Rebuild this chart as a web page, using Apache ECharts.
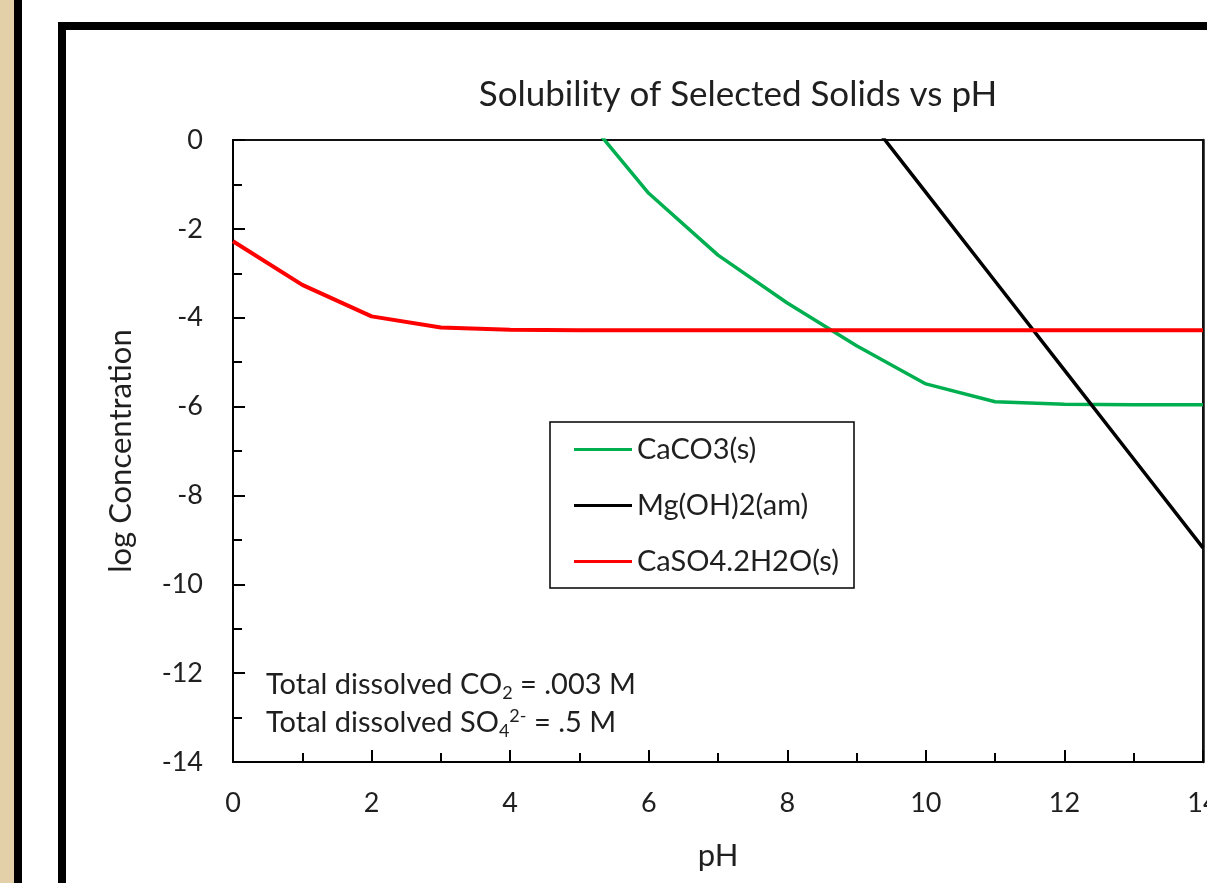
<!DOCTYPE html>
<html>
<head>
<meta charset="utf-8">
<script src="https://cdn.jsdelivr.net/npm/echarts@6/dist/echarts.min.js"></script>
<style>
  html, body { margin: 0; padding: 0; background: #ffffff; overflow: hidden; }
  #chart { width: 1207px; height: 883px; }
</style>
</head>
<body>
<div id="chart"></div>
<script>
// pH values (x) and log concentration of each solid (y)
const phValues = [0, 1, 2, 3, 4, 5, 6, 7, 8, 9, 10, 11, 12, 13, 14];
const caco3 = [null, null, null, null, null, 0.68, -1.2, -2.59, -3.67, -4.63, -5.49, -5.89, -5.95, -5.96, -5.96];
const mgoh2 = [null, null, null, null, null, null, null, null, null, 0.82, -1.18, -3.18, -5.18, -7.18, -9.18];
const caso4 = [-2.28, -3.26, -3.97, -4.22, -4.27, -4.28, -4.28, -4.28, -4.28, -4.28, -4.28, -4.28, -4.28, -4.28, -4.28];
const seriesNames = ["CaCO3(s)", "Mg(OH)2(am)", "CaSO4.2H2O(s)"];
const seriesColors = ["#00B050", "#000000", "#FF0000"];

const FONT = "Lato";
const TEXT = "#1f1f1f";

const toPairs = (vals) => phValues.map((x, i) => [x, vals[i]]);

const chart = echarts.init(document.getElementById("chart"), null, { renderer: "canvas" });

const axisFont = { fontFamily: FONT, fontSize: 27, color: TEXT };

const option = {
  backgroundColor: "#ffffff",
  animation: false,
  title: {
    text: "Solubility of Selected Solids vs pH",
    left: 733,
    top: 72,
    textAlign: "center",
    textStyle: { fontFamily: FONT, fontSize: 35, fontWeight: 400, color: TEXT },
  },
  legend: {
    orient: "vertical",
    left: 550,
    top: 422,
    padding: [13, 15, 12, 24],
    itemGap: 27,
    itemWidth: 58,
    itemHeight: 3,
    icon: "rect",
    borderColor: "#000",
    borderWidth: 1.5,
    textStyle: { fontFamily: FONT, fontSize: 29, color: TEXT },
    data: seriesNames,
  },
  grid: {
    left: 233,
    top: 140,
    width: 970,
    height: 622,
    outerBoundsMode: "none",
    show: true,
    borderColor: "#111",
    borderWidth: 2,
  },
  xAxis: {
    type: "value",
    min: 0,
    max: 14,
    interval: 2,
    name: "pH",
    nameLocation: "middle",
    nameGap: 78,
    nameTextStyle: { fontFamily: FONT, fontSize: 31, color: TEXT },
    axisLine: { onZero: false, lineStyle: { color: "#000", width: 2 } },
    axisTick: { inside: true, length: 12, lineStyle: { color: "#000", width: 2 } },
    minorTick: { show: true, splitNumber: 2, length: 9, lineStyle: { color: "#000", width: 2 } },
    axisLabel: Object.assign({ margin: 28 }, axisFont),
    splitLine: { show: false },
  },
  yAxis: [
    {
      type: "value",
      min: -14,
      max: 0,
      interval: 2,
      name: "log Concentration",
      nameLocation: "middle",
      nameGap: 97,
      nameRotate: 90,
      nameTextStyle: { fontFamily: FONT, fontSize: 31, color: TEXT },
      axisLine: { onZero: false, lineStyle: { color: "#000", width: 2 } },
      axisTick: { inside: true, length: 12, lineStyle: { color: "#000", width: 2 } },
      minorTick: { show: true, splitNumber: 2, length: 9, lineStyle: { color: "#000", width: 2 } },
      axisLabel: Object.assign({ margin: 30 }, axisFont),
      splitLine: { show: false },
    },
    {
      // right-hand frame of the plot area only
      type: "value",
      position: "right",
      min: -14,
      max: 0,
      axisLine: { show: true, onZero: false, lineStyle: { color: "#111", width: 2.5 } },
      axisTick: { show: false },
      axisLabel: { show: false },
      splitLine: { show: false },
    },
  ],
  series: [
    { name: seriesNames[0], type: "line", data: toPairs(caco3), showSymbol: false,
      lineStyle: { color: seriesColors[0], width: 3.5 }, itemStyle: { color: seriesColors[0] } },
    { name: seriesNames[1], type: "line", data: toPairs(mgoh2), showSymbol: false,
      lineStyle: { color: seriesColors[1], width: 3.5 }, itemStyle: { color: seriesColors[1] } },
    { name: seriesNames[2], type: "line", data: toPairs(caso4), showSymbol: false,
      lineStyle: { color: seriesColors[2], width: 4 }, itemStyle: { color: seriesColors[2] } },
  ],
  graphic: [
    // board strip on the left and the picture frame around the chart
    { type: "rect", left: 0, top: 0, shape: { width: 14, height: 883 }, style: { fill: "#e4d0a8" }, silent: true },
    { type: "rect", left: 14, top: 0, shape: { width: 8, height: 883 }, style: { fill: "#000" }, silent: true },
    { type: "rect", left: 58, top: 22, shape: { width: 1200, height: 900 }, style: { fill: "none", stroke: "#000", lineWidth: 8 }, silent: true, z: 100 },
    { type: "rect", left: 62, top: 26, shape: { width: 1200, height: 900 }, style: { fill: "none", stroke: "#dddddd", lineWidth: 2 }, silent: true, z: 99 },
    {
      type: "text",
      left: 266,
      top: 666,
      z: 50,
      style: {
        text: "Total dissolved CO{sub|2} = .003 M\nTotal dissolved SO{sub|4}{sup|2-} = .5 M",
        fontFamily: FONT,
        fontSize: 29,
        lineHeight: 38,
        fill: TEXT,
        rich: {
          sub: { fontFamily: FONT, fontSize: 18, lineHeight: 18, padding: [16, 0, 0, 0], fill: TEXT },
          sup: { fontFamily: FONT, fontSize: 18, lineHeight: 18, padding: [0, 0, 14, 0], fill: TEXT },
        },
      },
    },
  ],
};

chart.setOption(option);
</script>
</body>
</html>
